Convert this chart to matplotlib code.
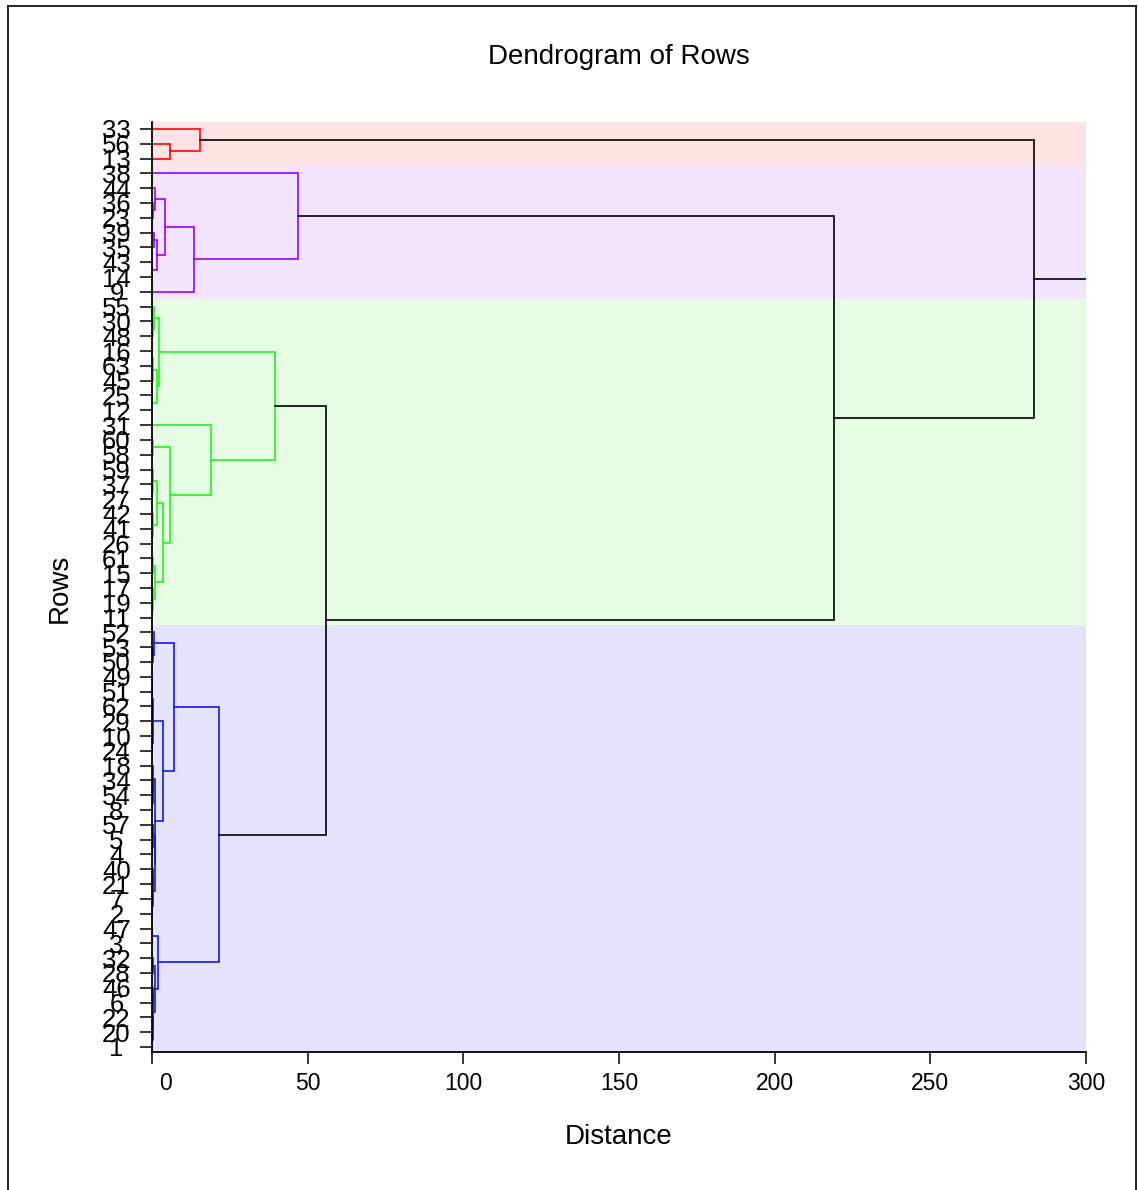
import numpy as np
import matplotlib
matplotlib.use('Agg')
from matplotlib import pyplot as plt
from matplotlib.lines import Line2D
from matplotlib import transforms

plt.rcParams['font.family'] = ['Liberation Sans Narrow', 'Liberation Sans', 'DejaVu Sans']

# merges: (node, left child, right child, distance); left child is drawn above
red_merges = [('r1', '56', '13', 5.8), ('r2', '33', 'r1', 15.4)]

purple_merges = [('p1', '36', '23', 0.2), ('p2', '44', 'p1', 1.0), ('p3', '39', '35', 0.5),
                 ('p4', '43', '14', 0.1), ('p5', 'p3', 'p4', 1.7), ('p6', 'p2', 'p5', 4.1),
                 ('p7', 'p6', '9', 13.5), ('p8', '38', 'p7', 46.9)]

green_merges = [('g1', '30', '48', 0.2), ('g2', '55', 'g1', 0.5), ('g3', '16', '63', 0.1),
                ('g4', 'g3', '45', 0.3), ('g5', '25', '12', 0.1), ('g6', 'g4', 'g5', 1.5),
                ('g7', 'g2', 'g6', 2.3), ('g8', '60', '58', 0.4), ('g9', '37', '27', 0.1),
                ('g10', '59', 'g9', 0.4), ('g11', '41', '26', 0.1), ('g12', '42', 'g11', 0.3),
                ('g13', 'g10', 'g12', 1.7), ('g14', '61', '15', 0.2), ('g15', '19', '11', 0.1),
                ('g16', '17', 'g15', 0.3), ('g17', 'g14', 'g16', 1.0), ('g18', 'g13', 'g17', 3.4),
                ('g19', 'g8', 'g18', 5.8), ('g20', '31', 'g19', 19.0), ('g21', 'g7', 'g20', 39.5)]

blue_merges = [('b1', '53', '50', 0.3), ('b2', '52', 'b1', 0.5), ('b3', '49', '51', 0.1),
               ('b4', '62', '29', 0.1), ('b5', 'b3', 'b4', 0.15), ('b6', '10', '24', 0.1),
               ('b7', 'b5', 'b6', 0.25), ('b8', '54', '8', 0.1), ('b9', '34', 'b8', 0.2),
               ('b10', '18', 'b9', 0.3), ('b11', '5', '4', 0.1), ('b12', '57', 'b11', 0.3),
               ('b13', '40', '21', 0.2), ('b14', '7', '2', 0.1), ('b15', 'b13', 'b14', 0.4),
               ('b16', 'b12', 'b15', 1.0), ('b17', 'b10', 'b16', 1.1), ('b18', 'b7', 'b17', 3.4),
               ('b19', 'b2', 'b18', 7.1), ('b20', '47', '3', 0.1), ('b21', '32', '28', 0.2),
               ('b22', '46', '6', 0.2), ('b23', '20', '1', 0.05), ('b24', '22', 'b23', 0.2),
               ('b25', 'b22', 'b24', 0.4), ('b26', 'b21', 'b25', 1.0), ('b27', 'b20', 'b26', 2.0),
               ('b28', 'b19', 'b27', 21.5)]

top_merges = [('t1', 'g21', 'b28', 55.9), ('t2', 'p8', 't1', 219.0), ('t3', 'r2', 't2', 283.3)]

clusters = [(red_merges, 'r2', '#ff0000', '#fde3e3'),
            (purple_merges, 'p8', '#9b00ff', '#f2e4fc'),
            (green_merges, 'g21', '#1ff51f', '#e6fde4'),
            (blue_merges, 'b28', '#1414ff', '#e5e3fc')]

children = {}
height = {}
color = {}
for merges, root, lc, bc in clusters:
    for n, a, b, h in merges:
        children[n] = (a, b)
        height[n] = h
        color[n] = lc
for n, a, b, h in top_merges:
    children[n] = (a, b)
    height[n] = h
    color[n] = 'k'

# leaf order from the tree
order = []
def walk(n):
    if n in children:
        walk(children[n][0])
        walk(children[n][1])
    else:
        order.append(n)
walk('t3')
pos = {lab: i for i, lab in enumerate(order)}

ypos = {}
def place(n):
    if n not in children:
        ypos[n] = pos[n]
        return ypos[n]
    a, b = children[n]
    ypos[n] = (place(a) + place(b)) / 2.
    return ypos[n]
place('t3')

def h_of(n):
    return height.get(n, 0.)

fig = plt.figure('dendrogram', figsize=(11.38, 11.90), dpi=100)
ax = fig.add_axes([152/1138., 1-1052/1190., (1086-152)/1138., (1052-122)/1190.])

for merges, root, lc, bc in clusters:
    leaves = []
    def collect(n):
        if n in children:
            collect(children[n][0]); collect(children[n][1])
        else:
            leaves.append(pos[n])
    collect(root)
    ax.axhspan(min(leaves)-0.5, max(leaves)+0.5, color=bc, lw=0, zorder=0)

for n in children:
    a, b = children[n]
    h = height[n]
    ax.plot([h_of(a), h, h, h_of(b)], [ypos[a], ypos[a], ypos[b], ypos[b]],
            color=color[n], lw=1.2, zorder=2, solid_joinstyle='miter')
# root stub
ax.plot([height['t3'], 300], [ypos['t3'], ypos['t3']], color='k', lw=1.2, zorder=2)

ax.set_xlim(0, 300)
ax.set_ylim(62.34, -0.47)
ax.set_yticks(range(len(order)))
ax.set_yticklabels(order, fontsize=18.5, ha='center')
ax.set_xticks([0, 50, 100, 150, 200, 250, 300])
ax.tick_params(axis='y', length=8.6, width=1.1, pad=17, direction='out')
ax.tick_params(axis='x', length=8.6, width=1.1, pad=6, labelsize=16.5, direction='out')
for axis in ['top', 'right']:
    ax.spines[axis].set_visible(False)
for axis in ['bottom', 'left']:
    ax.spines[axis].set_linewidth(1.3)

lbl0 = ax.get_xticklabels()[0]
lbl0.set_transform(lbl0.get_transform() + transforms.ScaledTranslation(10/72., 0, fig.dpi_scale_trans))

fig.text(619/1138., 1-57/1190., 'Dendrogram of Rows', ha='center', va='center', fontsize=20)
fig.text(619/1138., 1-1137/1190., 'Distance', ha='center', va='center', fontsize=20)
fig.text(60/1138., 1-588/1190., 'Rows', ha='center', va='center', fontsize=20, rotation=90)

# outer frame
fx0, fx1, fy1 = 8/1138., 1136/1138., 1-6/1190.
for xs, ys in (([fx0, fx0], [0, fy1]), ([fx0, fx1], [fy1, fy1]), ([fx1, fx1], [fy1, 0])):
    fig.add_artist(Line2D(xs, ys, color='k', lw=1.2, transform=fig.transFigure))

fig.savefig('out.png', dpi=100)
